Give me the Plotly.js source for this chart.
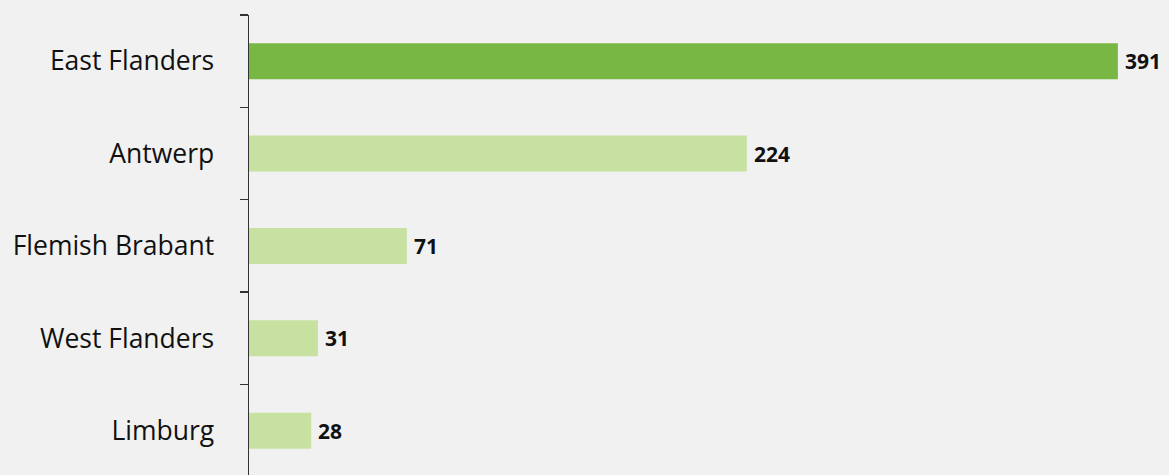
<!DOCTYPE html>
<html><head><meta charset="utf-8">
<script src="https://cdn.plot.ly/plotly-3.0.1.min.js"></script>
<style>html,body{margin:0;padding:0;background:#f1f1f1;}#chart{width:1169px;height:475px;}</style>
</head><body><div id="chart"></div>
<script>
const provinces = ["East Flanders", "Antwerp", "Flemish Brabant", "West Flanders", "Limburg"];
const counts = [391, 224, 71, 31, 28];
const barColors = ["#78b743", "#c6e1a0", "#c6e1a0", "#c6e1a0", "#c6e1a0"];

const trace = {
  type: "bar", orientation: "h",
  y: provinces, x: counts,
  width: 0.39,
  marker: {color: barColors},
  hoverinfo: "none"
};
const annotations = provinces.map((p, i) => ({
  x: counts[i], y: p, xref: "x", yref: "y",
  text: "<b>" + counts[i] + "</b>", showarrow: false,
  xanchor: "left", xshift: 5,
  font: {family: "'Open Sans', sans-serif", size: 21, color: "#111"}
}));
const layout = {
  width: 1169, height: 475,
  paper_bgcolor: "#f1f1f1", plot_bgcolor: "#f1f1f1",
  margin: {l: 249, r: 0, t: 15, b: 0},
  showlegend: false,
  xaxis: {range: [0, 414], visible: false, fixedrange: true},
  yaxis: {
    type: "category", autorange: false, range: [4.48, -0.5],
    tickson: "boundaries", ticks: "outside", ticklen: 8, tickwidth: 1.5, tickcolor: "#333",
    showline: true, linecolor: "#333", linewidth: 1.5, showgrid: false, zeroline: false,
    ticklabelstandoff: 28,
    tickfont: {family: "'Open Sans', sans-serif", size: 26.5, color: "#111"}
  },
  annotations: annotations
};
Plotly.newPlot("chart", [trace], layout, {displayModeBar: false, staticPlot: true});
</script></body></html>
